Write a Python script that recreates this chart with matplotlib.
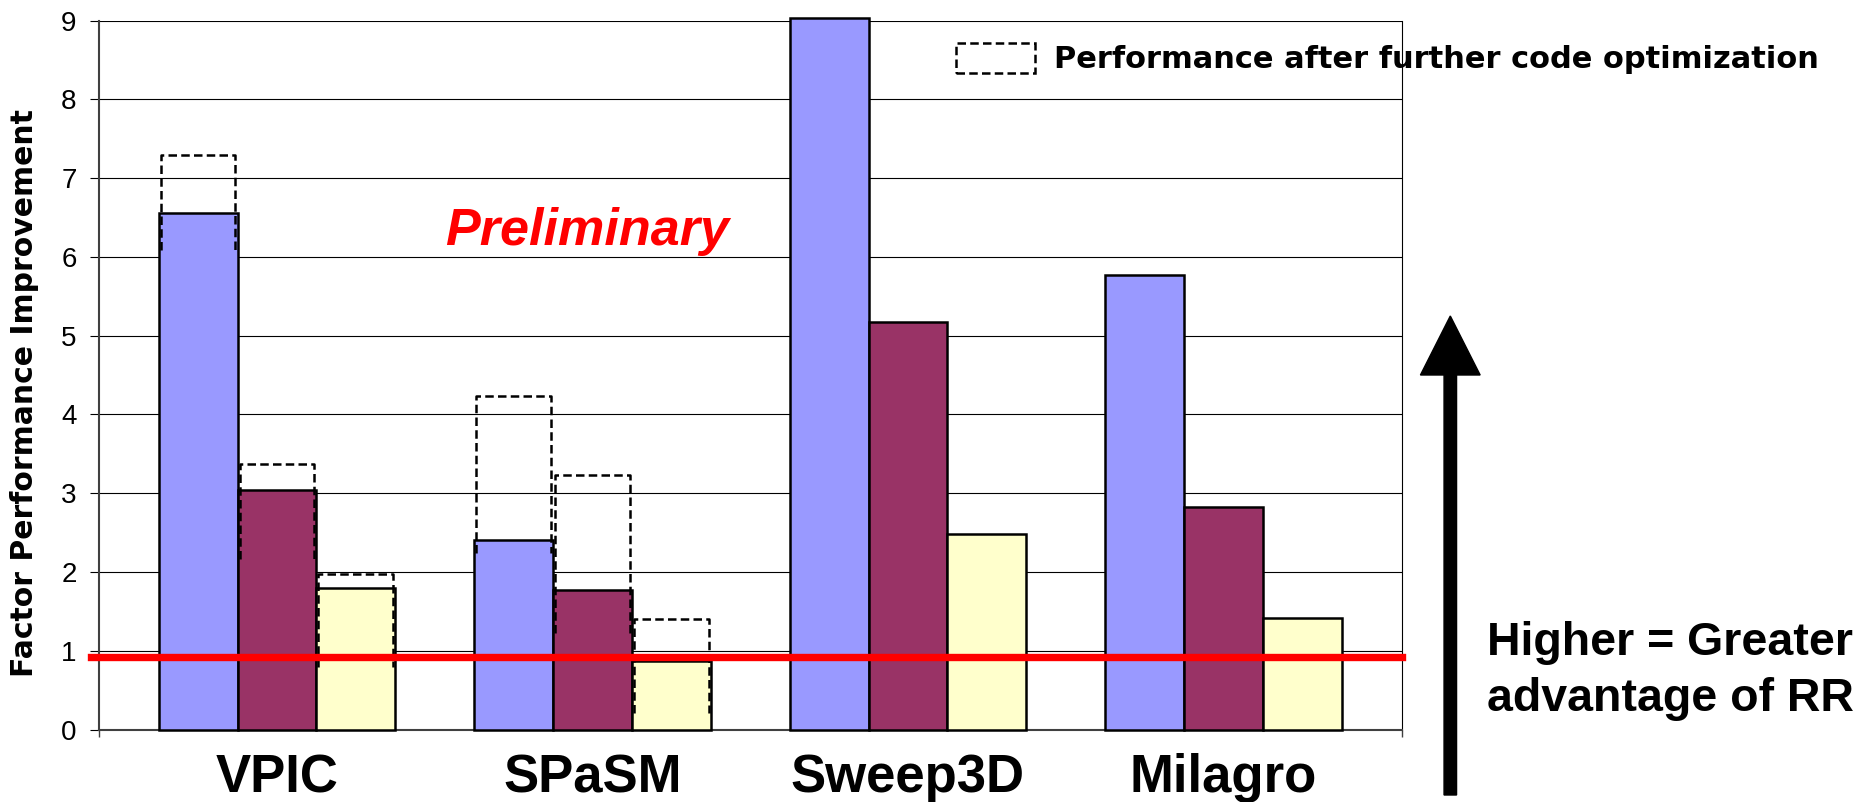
import matplotlib
matplotlib.use("Agg")
import matplotlib.pyplot as plt
from matplotlib.patches import Rectangle, FancyArrow
import numpy as np

plt.rcParams["font.family"] = ["Liberation Sans", "DejaVu Sans"]

# ---- data -------------------------------------------------------------
categories = ["VPIC", "SPaSM", "Sweep3D", "Milagro"]
series_blue = [6.56, 2.40, 9.04, 5.77]
series_maroon = [3.04, 1.77, 5.17, 2.83]
series_yellow = [1.80, 0.87, 2.48, 1.41]

# dashed outlines: performance after further code optimization
opt_top_blue = [7.29, 4.24, np.nan, np.nan]
opt_top_maroon = [3.37, 3.23, np.nan, np.nan]
opt_top_yellow = [1.97, 1.40, np.nan, np.nan]
opt_bottom_blue = [6.09, 2.24, np.nan, np.nan]
opt_bottom_maroon = [2.17, 1.22, np.nan, np.nan]
opt_bottom_yellow = [0.79, 0.21, np.nan, np.nan]

parity_level = 0.925
y_ticks = list(range(10))

# ---- figure -----------------------------------------------------------
W, H, DPI = 1869, 802, 100
fig = plt.figure(figsize=(W / DPI, H / DPI), dpi=DPI, facecolor="white")
ax = fig.add_axes([99 / W, 1 - 729.5 / H, (1401.7 - 99) / W, (729.5 - 20.7) / H])

x = np.arange(len(categories))
bw = 0.25
offsets = [-bw, 0.0, bw]
colors = ["#9999FF", "#993366", "#FFFFCC"]
dash = (0, (3.4, 1.7))
inset = 0.0065  # keeps the dashed sides visible just inside the bar edges

groups = [
    (series_blue, opt_top_blue, opt_bottom_blue),
    (series_maroon, opt_top_maroon, opt_bottom_maroon),
    (series_yellow, opt_top_yellow, opt_bottom_yellow),
]
for (vals, tops, bottoms), off, col in zip(groups, offsets, colors):
    ax.bar(x + off, vals, bw, color=col, edgecolor="black", linewidth=1.8,
           zorder=3, clip_on=False)
    # open-bottomed dashed outline for the optimized value
    for xi, t, b in zip(x, tops, bottoms):
        if np.isnan(t):
            continue
        x0, x1 = xi + off - bw / 2 + inset, xi + off + bw / 2 - inset
        ax.plot([x0, x0, x1, x1], [b, t, t, b], color="black", linewidth=1.8,
                linestyle=dash, zorder=4, solid_joinstyle="miter")

ax.axhline(parity_level, xmin=-0.0065, xmax=1.0, color="#FF0000", linewidth=5.3,
           zorder=5, clip_on=False)

ax.set_xlim(-0.564, 3.565)
ax.set_ylim(0, 9)
ax.set_yticks(y_ticks)
ax.yaxis.grid(True, color="black", linewidth=0.8, zorder=0)
ax.set_axisbelow(True)
ax.tick_params(axis="y", direction="out", length=6.2, width=0.8, pad=10,
               labelsize=20, colors="black")

ax.set_xticks(x)
ax.set_xticklabels(categories, fontsize=38, fontweight="bold")
for lab in ax.get_xticklabels():
    lab.set_verticalalignment("baseline")
ax.tick_params(axis="x", which="major", length=0, pad=45.2)
ax.set_xticks([-0.564, 3.565], minor=True)
ax.tick_params(axis="x", which="minor", direction="out", length=5, width=1,
               color="#404040")

ax.spines["top"].set_visible(False)
ax.spines["left"].set_color("#404040")
ax.spines["left"].set_linewidth(1.5)
ax.spines["bottom"].set_color("#404040")
ax.spines["bottom"].set_linewidth(1.5)
ax.spines["right"].set_color("black")
ax.spines["right"].set_linewidth(0.8)

ax.set_ylabel("Factor Performance Improvement", fontsize=21.5, fontweight="bold",
              family="DejaVu Sans", va="center")
ax.yaxis.set_label_coords((25 - 99) / 1302.7, (729.5 - 393) / 708.8)

ax.text(0.983, 6.15, "Preliminary", color="#FF0000", fontsize=37.5,
        fontweight="bold", fontstyle="italic", ha="center", va="baseline",
        zorder=6)

# legend entry for the dashed outline
fig.add_artist(Rectangle((956 / W, 1 - 72.7 / H), 79 / W, 29.4 / H,
                         transform=fig.transFigure, fill=False,
                         edgecolor="black", linewidth=1.8, linestyle=dash))
fig.text(1054 / W, 1 - 67.5 / H, "Performance after further code optimization",
         fontsize=22, fontweight="bold", family="DejaVu Sans", va="baseline")

# arrow and annotation on the right
fig.add_artist(FancyArrow(1450.3 / W, 1 - 795 / H, 0, (795 - 316) / H,
                          width=12.5 / W, head_width=59.7 / W,
                          head_length=59 / H, length_includes_head=True,
                          color="black", transform=fig.transFigure))
fig.text(1487 / W, 1 - 655 / H, "Higher = Greater", fontsize=33.5,
         fontweight="bold", va="baseline")
fig.text(1487 / W, 1 - 711 / H, "advantage of RR", fontsize=33.5,
         fontweight="bold", va="baseline")

fig.savefig("out.png", dpi=DPI, facecolor="white")
